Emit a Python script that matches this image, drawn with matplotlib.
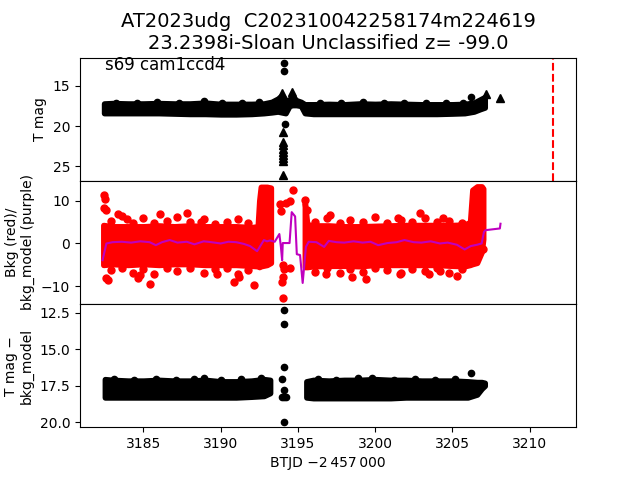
import matplotlib
matplotlib.use("Agg")
import matplotlib.pyplot as plt
from matplotlib.ticker import MultipleLocator

# top panel: T mag band (bright / faint edge of the dense cloud)
band_t = [3182.45, 3183.0, 3184.0, 3185.0, 3186.0, 3187.0, 3188.0, 3189.0, 3190.0,
          3191.0, 3192.0, 3192.8, 3193.3, 3193.7, 3193.95, 3194.2, 3194.45, 3194.65,
          3194.9, 3195.2, 3195.45, 3196.0, 3197.0, 3198.0, 3199.0, 3200.0, 3201.0,
          3202.0, 3203.0, 3204.0, 3205.0, 3205.8, 3206.4, 3206.8, 3207.1]
band_hi = [17.2, 17.15, 17.2, 17.2, 17.15, 17.2, 17.2, 17.1, 17.25, 17.25, 17.25, 17.2,
           17.0, 16.6, 16.2, 16.8, 16.7, 16.3, 16.8, 17.0, 17.3, 17.3, 17.25, 17.3, 17.2,
           17.25, 17.2, 17.25, 17.3, 17.3, 17.3, 17.25, 17.1, 16.7, 16.4]
band_lo = [18.4, 18.4, 18.4, 18.4, 18.4, 18.45, 18.5, 18.5, 18.55, 18.55, 18.5, 18.4,
           18.3, 18.2, 18.3, 18.4, 17.5, 17.4, 17.4, 17.5, 18.4, 18.5, 18.5, 18.5, 18.5,
           18.5, 18.5, 18.5, 18.5, 18.5, 18.45, 18.4, 18.2, 17.9, 17.7]
band_fr_t = [3183.2, 3184.6, 3185.9, 3187.3, 3188.9, 3190.1, 3191.4, 3192.5, 3196.4,
             3197.8, 3199.2, 3200.6, 3201.9, 3203.3, 3204.6, 3205.7]
band_fr = [17.1, 17.15, 17.05, 17.15, 16.9, 17.15, 17.1, 17.05, 17.15, 17.1, 17.05, 17.15,
           17.1, 17.15, 17.2, 17.15]
mag_dot_t = [3194.1, 3194.1, 3194.15, 3206.18]
mag_dot = [12.2, 13.2, 19.7, 16.4]
tri_t = [3193.95, 3194.65, 3207.15, 3208.1, 3194.05, 3194.05, 3194.05, 3194.05,
         3194.05, 3194.05, 3194.05, 3194.05, 3194.05]
tri_mag = [15.9, 15.8, 16.0, 16.5, 20.8, 22.0, 22.4, 22.8, 23.2, 23.6, 24.0, 24.3, 26.1]
trigger_t = 3211.55

# middle panel: background (red) and bkg model (purple)
bkgA_t = [3182.4, 3183.0, 3184.0, 3185.0, 3186.0, 3187.0, 3188.0, 3189.0, 3190.0,
          3191.0, 3192.0, 3192.4, 3192.5, 3192.6, 3193.0, 3193.25]
bkgA_hi = [4.3, 4.0, 4.0, 4.0, 4.2, 4.0, 4.2, 4.0, 4.0, 4.0, 3.8, 4.0, 10.0, 13.2, 13.2, 13.0]
bkgA_lo = [-5.0, -4.8, -5.0, -4.8, -5.0, -4.8, -4.8, -5.0, -5.0, -5.0, -5.2, -5.3, -5.5,
           -5.3, -5.0, -4.5]
bkgB_t = [3195.45, 3195.6, 3196.0, 3197.0, 3198.0, 3199.0, 3200.0, 3201.0, 3202.0,
          3203.0, 3204.0, 3205.0, 3205.8, 3206.15, 3206.3, 3206.6, 3206.9, 3207.0]
bkgB_hi = [9.5, 4.5, 4.2, 4.2, 4.0, 4.0, 4.1, 4.2, 4.3, 4.3, 4.3, 4.3, 4.4, 5.0, 12.5,
           13.3, 13.3, 12.8]
bkgB_lo = [-5.5, -5.5, -5.3, -5.2, -5.2, -5.3, -5.0, -5.0, -5.0, -5.0, -5.0, -5.2, -5.3,
           -5.0, -4.8, -4.5, -2.0, 1.0]
bkg_fr_t = [3182.9, 3183.6, 3184.3, 3185.0, 3185.7, 3186.5, 3187.2, 3188.0, 3188.9,
            3189.6, 3190.4, 3191.1, 3191.8, 3196.1, 3196.9, 3197.7, 3198.4, 3199.2,
            3200.0, 3200.8, 3201.7, 3202.4, 3203.2, 3204.0, 3204.8, 3205.6]
bkg_fr_hi = [5.2, 6.4, 4.8, 5.9, 4.7, 5.3, 6.1, 4.9, 5.6, 4.6, 5.0, 5.8, 4.8, 5.0, 6.0,
             4.7, 5.5, 4.9, 6.2, 4.8, 5.4, 5.0, 5.9, 4.9, 5.3, 4.7]
bkg_fr_lo = [-6.1, -5.7, -6.9, -5.9, -7.2, -5.8, -6.5, -5.7, -6.8, -6.0, -5.8, -7.0, -6.1,
             -6.6, -5.8, -6.9, -6.0, -6.7, -5.8, -6.2, -6.9, -5.9, -6.4, -5.8, -6.8, -6.0]
bkg_out_t = [3182.45, 3182.5, 3182.45, 3182.55, 3182.6, 3182.7, 3183.36, 3183.94, 3186.1,
             3187.83, 3188.7, 3184.63, 3185.41, 3184.8, 3189.77, 3190.85, 3191.17, 3192.14,
             3193.83, 3193.92, 3194.2, 3194.52, 3194.69, 3194.05, 3194.09, 3194.05,
             3193.98, 3194.02, 3194.48, 3195.49, 3195.6, 3197.11, 3202.94, 3201.5, 3204.4,
             3198.5, 3199.4, 3196.8, 3201.6, 3203.5, 3205.3, 3204.2, 3207.0]
bkg_out = [11.4, 10.4, 8.3, 7.8, -8.1, -8.5, 6.8, 5.8, 6.8,
           7.2, 5.1, -8.1, -9.4, -7.3, -7.0, -8.9, -7.7, -9.7,
           9.3, 7.6, 9.4, 10.0, 12.5, -5.0, -6.0, -7.8,
           -8.9, -12.8, -5.8, 10.1, 7.7, 6.6, 7.0, 5.9, 5.9,
           -7.9, -8.3, -7.0, -7.0, -7.2, -7.5, -6.3, -1.3]
model_t = [3182.35, 3182.6, 3183.0, 3183.6, 3184.2, 3184.8, 3185.4, 3185.8, 3186.2,
           3186.7, 3187.2, 3187.8, 3188.3, 3188.9, 3189.4, 3190.0, 3190.5, 3191.0,
           3191.5, 3191.9, 3192.36, 3192.8, 3193.0, 3193.2, 3193.5, 3193.8, 3193.9,
           3193.98, 3194.02, 3194.46, 3194.6, 3194.82, 3194.93, 3195.14, 3195.31,
           3195.52, 3195.7, 3196.2, 3196.7, 3197.0, 3197.5, 3198.0, 3198.6, 3199.2,
           3199.7, 3200.2, 3200.8, 3201.4, 3201.9, 3202.5, 3203.0, 3203.6, 3204.2,
           3204.7, 3205.3, 3205.8, 3206.2, 3206.6, 3206.9, 3207.05, 3207.15, 3208.08,
           3208.12]
model = [-3.9, 0.0, 0.3, 0.4, 0.2, 0.5, 0.3, -0.4, 0.3,
         0.8, 0.2, 0.4, -0.2, 0.5, 0.3, 0.0, 0.4, 0.3,
         -0.1, -0.6, -1.8, 0.8, 0.5, 0.7, 0.4, 2.2, -0.8,
         -3.9, 0.1, 0.1, 7.3, 6.3, -2.5, -2.7, -9.2,
         -0.8, 0.4, 0.3, -0.8, 0.6, 0.3, 0.2, 0.5, 0.2,
         0.4, -0.4, 0.1, 0.3, 0.8, 0.3, 0.2, 0.5, 0.0,
         0.2, -0.3, -1.4, -0.6, -0.3, 0.0, 2.7, 3.1, 3.5,
         4.6]

# bottom panel: T mag - bkg_model
subA_t = [3182.5, 3183.0, 3184.0, 3185.0, 3186.0, 3187.0, 3188.0, 3189.0, 3190.0,
          3191.0, 3192.0, 3192.8, 3193.2]
subA_hi = [17.05, 17.1, 17.15, 17.15, 17.1, 17.15, 17.15, 17.1, 17.2, 17.2, 17.15, 17.05, 17.1]
subA_lo = [18.3, 18.3, 18.3, 18.3, 18.3, 18.3, 18.3, 18.3, 18.3, 18.3, 18.25, 18.2, 18.0]
subB_t = [3195.55, 3196.0, 3197.0, 3198.0, 3199.0, 3200.0, 3201.0, 3202.0, 3203.0,
          3204.0, 3205.0, 3206.0, 3206.6, 3206.9, 3207.1]
subB_hi = [17.2, 17.1, 17.15, 17.1, 17.1, 17.05, 17.1, 17.1, 17.15, 17.15, 17.15, 17.2,
           17.25, 17.25, 17.3]
subB_lo = [18.3, 18.35, 18.35, 18.35, 18.35, 18.35, 18.35, 18.3, 18.3, 18.3, 18.3, 18.3,
           18.1, 17.7, 17.5]
sub_fr_t = [3183.1, 3184.4, 3185.8, 3187.1, 3188.3, 3190.0, 3191.3, 3192.6, 3196.3,
            3197.5, 3198.9, 3199.8, 3201.2, 3202.6, 3203.9, 3205.2]
sub_fr = [17.05, 17.1, 17.05, 17.1, 17.05, 17.1, 17.05, 17.0, 17.05, 17.1, 17.0, 17.0,
          17.1, 17.05, 17.1, 17.05]
sub_out_t = [3194.13, 3194.13, 3194.13, 3193.98, 3194.1, 3194.0, 3194.1, 3194.2,
             3194.13, 3206.18, 3188.95]
sub_out = [12.3, 13.25, 16.2, 17.05, 17.8, 18.3, 18.3, 18.3, 19.95, 16.6, 17.0]

fig, axes = plt.subplots(3, 1, sharex=True, figsize=(6.4, 4.8), dpi=100)
fig.subplots_adjust(hspace=0)
ax1, ax2, ax3 = axes

ax1.fill_between(band_t, band_lo, band_hi, color="k", lw=4)
ax1.plot(band_fr_t, band_fr, "ko", ms=4.5, ls="none")
ax1.plot(mag_dot_t, mag_dot, "ko", ms=4.5, ls="none")
ax1.plot(tri_t, tri_mag, "k^", ms=6, ls="none")
ax1.axvline(trigger_t, color="r", ls="--", lw=1.5)
ax1.invert_yaxis()
ax1.set_ylabel("T mag")
ax1.text(0.05, 0.9, "s69 cam1ccd4", transform=ax1.transAxes, fontsize=12)
ax1.set_title("AT2023udg  C202310042258174m224619\n"
              "23.2398i-Sloan Unclassified z= -99.0", fontsize=14)

ax2.fill_between(bkgA_t, bkgA_lo, bkgA_hi, color="r", lw=4)
ax2.fill_between(bkgB_t, bkgB_lo, bkgB_hi, color="r", lw=4)
ax2.plot(bkg_fr_t, bkg_fr_hi, "ro", ms=5, ls="none")
ax2.plot(bkg_fr_t, bkg_fr_lo, "ro", ms=5, ls="none")
ax2.plot(bkg_out_t, bkg_out, "ro", ms=5, ls="none")
ax2.plot(model_t, model, color="m", lw=1.5)
ax2.yaxis.set_major_locator(MultipleLocator(10))
ax2.set_ylabel("Bkg (red)/\nbkg_model (purple)")

ax3.fill_between(subA_t, subA_lo, subA_hi, color="k", lw=4)
ax3.fill_between(subB_t, subB_lo, subB_hi, color="k", lw=4)
ax3.plot(sub_fr_t, sub_fr, "ko", ms=4.5, ls="none")
ax3.plot(sub_out_t, sub_out, "ko", ms=4.5, ls="none")
ax3.invert_yaxis()
ax3.set_ylabel("T mag \u2212\nbkg_model")
ax3.set_xlabel("BTJD \u22122\u2009457\u2009000")

plt.savefig("out.png")
